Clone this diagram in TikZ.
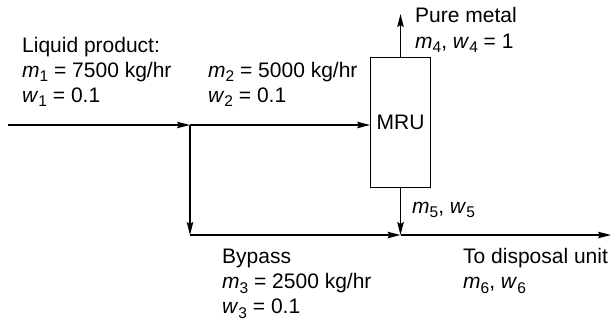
\documentclass[tikz,border=0pt]{standalone}
\usepackage{fontspec}
\setmainfont{Liberation Sans}
\usetikzlibrary{arrows.meta}
\newcommand\qv[2]{\textit{#1}\raisebox{-0.45ex}{\fontsize{15.5}{15.5}\selectfont #2}}
\begin{document}
\begin{tikzpicture}[x=1pt,y=-1pt,
 flow/.style={line width=1.4pt, -{Stealth[length=13pt,width=6.5pt,inset=2pt]}},
 lbl/.style={anchor=base west, inner sep=0pt, font=\fontsize{21}{25}\selectfont},
 unit/.style={draw, line width=0.8pt, minimum width=60pt, minimum height=130pt, inner sep=0pt, font=\fontsize{21}{25}\selectfont}]
\useasboundingbox (0,0) rectangle (612,322);
\node[unit] (mru) at (400.5,122.5) {MRU};
\coordinate (in) at (8,125);
\coordinate (split) at (190,125);
\coordinate (top) at (400.5,14);
\coordinate (mix) at (400.5,235);
\coordinate (corner) at (190,235);
\coordinate (out) at (611,235);
\draw[flow] (in) -- (split);
\draw[flow] (split) -- (split -| mru.west);
\draw[flow] (mru.north) -- (top);
\draw[flow] (mru.south) -- (mix);
\draw[flow] (split) -- (corner);
\draw[flow] (corner) -- (mix);
\draw[flow] (mix) -- (out);
\node[lbl] (l1) at (22,52.7) {Liquid product:};
\node[lbl] (l2) at (22,77) {\qv{m}{1} = 7500 kg/hr};
\node[lbl] (l3) at (22,102) {\qv{w}{1} = 0.1};
\node[lbl] (s1) at (208,77) {\qv{m}{2} = 5000 kg/hr};
\node[lbl] (s2) at (208,102) {\qv{w}{2} = 0.1};
\node[lbl] (p1) at (415,22.7) {Pure metal};
\node[lbl] (p2) at (415,48) {\qv{m}{4}, \qv{w}{4} = 1};
\node[lbl] (r1) at (412,213) {\qv{m}{5}, \qv{w}{5}};
\node[lbl] (b1) at (222,263) {Bypass};
\node[lbl] (b2) at (222,288) {\qv{m}{3} = 2500 kg/hr};
\node[lbl] (b3) at (222,313) {\qv{w}{3} = 0.1};
\node[lbl] (d1) at (463,263) {To disposal unit};
\node[lbl] (d2) at (463,288) {\qv{m}{6}, \qv{w}{6}};
\end{tikzpicture}
\end{document}
